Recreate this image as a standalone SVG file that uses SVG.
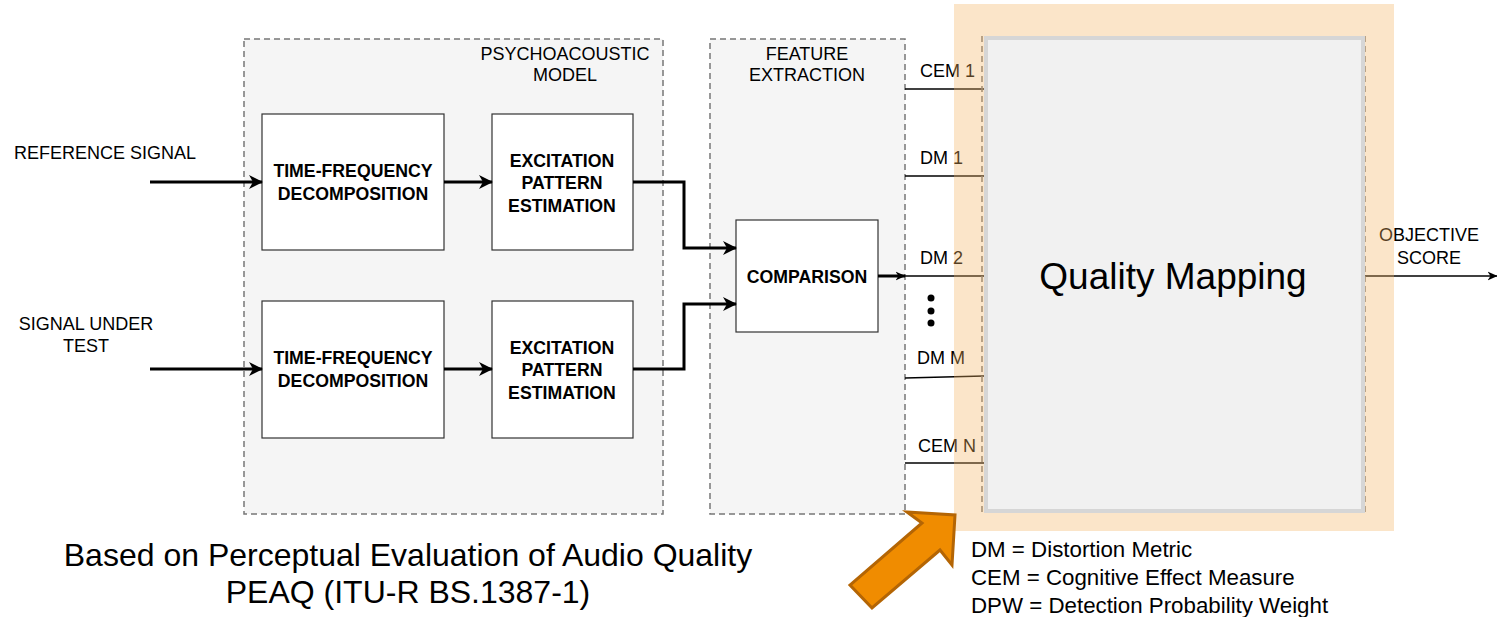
<svg xmlns="http://www.w3.org/2000/svg" width="1497" height="617" viewBox="0 0 1497 617">
  <defs>
    <style>
      text { font-family: "Liberation Sans", Arial, sans-serif; fill: #000; }
      .lbl { font-size: 18px; }
      .bold { font-size: 17.7px; font-weight: bold; }
      .container { fill: #f5f5f5; stroke: #777; stroke-width: 1.5; stroke-dasharray: 6 4; }
      .block { fill: #fff; stroke: #333; stroke-width: 1.2; }
      .thick { fill: none; stroke: #000; stroke-width: 3; }
      .thin { fill: none; stroke: #000; stroke-width: 1.5; }
    </style>
    <marker id="headBig" viewBox="0 0 14 14" refX="13" refY="7" markerWidth="14" markerHeight="14" markerUnits="userSpaceOnUse" orient="auto">
      <path d="M0,0 L14,7 L0,14 L4,7 Z" fill="#000"/>
    </marker>
    <marker id="headSmall" viewBox="0 0 10 10" refX="9.5" refY="5" markerWidth="10" markerHeight="10" markerUnits="userSpaceOnUse" orient="auto">
      <path d="M0,0.5 L10,5 L0,9.5 L3,5 Z" fill="#000"/>
    </marker>
  </defs>

  <rect width="1497" height="617" fill="#fff"/>

  <!-- containers -->
  <g id="psychoacoustic-model">
    <rect class="container" x="244" y="39" width="419" height="475"/>
    <text class="lbl" x="565" y="60" text-anchor="middle">PSYCHOACOUSTIC</text>
    <text class="lbl" x="565" y="81" text-anchor="middle">MODEL</text>
  </g>
  <g id="feature-extraction">
    <rect class="container" x="710" y="39" width="195" height="475"/>
    <text class="lbl" x="807" y="60" text-anchor="middle">FEATURE</text>
    <text class="lbl" x="807" y="81" text-anchor="middle">EXTRACTION</text>
  </g>

  <!-- input labels -->
  <g id="reference-signal">
    <text class="lbl" x="14" y="159">REFERENCE SIGNAL</text>
  </g>
  <g id="signal-under-test">
    <text class="lbl" x="86" y="330" text-anchor="middle">SIGNAL UNDER</text>
    <text class="lbl" x="86" y="352" text-anchor="middle">TEST</text>
  </g>

  <!-- processing blocks -->
  <g id="tf-decomp-ref">
    <rect class="block" x="262" y="114" width="182" height="136"/>
    <text class="bold" x="353" y="177" text-anchor="middle">TIME-FREQUENCY</text>
    <text class="bold" x="353" y="200" text-anchor="middle">DECOMPOSITION</text>
  </g>
  <g id="excitation-ref">
    <rect class="block" x="492" y="114" width="141" height="136"/>
    <text class="bold" x="562" y="167" text-anchor="middle">EXCITATION</text>
    <text class="bold" x="562" y="189" text-anchor="middle">PATTERN</text>
    <text class="bold" x="562" y="212" text-anchor="middle">ESTIMATION</text>
  </g>
  <g id="tf-decomp-test">
    <rect class="block" x="262" y="301" width="182" height="137"/>
    <text class="bold" x="353" y="364" text-anchor="middle">TIME-FREQUENCY</text>
    <text class="bold" x="353" y="387" text-anchor="middle">DECOMPOSITION</text>
  </g>
  <g id="excitation-test">
    <rect class="block" x="492" y="301" width="141" height="137"/>
    <text class="bold" x="562" y="354" text-anchor="middle">EXCITATION</text>
    <text class="bold" x="562" y="376" text-anchor="middle">PATTERN</text>
    <text class="bold" x="562" y="399" text-anchor="middle">ESTIMATION</text>
  </g>
  <g id="comparison">
    <rect class="block" x="736" y="220" width="142" height="112"/>
    <text class="bold" x="807" y="283" text-anchor="middle">COMPARISON</text>
  </g>

  <!-- connectors -->
  <g id="connectors">
    <path class="thick" d="M150,182 H262" marker-end="url(#headBig)"/>
    <path class="thick" d="M150,369 H262" marker-end="url(#headBig)"/>
    <path class="thick" d="M444,182 H492" marker-end="url(#headBig)"/>
    <path class="thick" d="M444,369 H492" marker-end="url(#headBig)"/>
    <path class="thick" d="M633,182 H684 V248 H736" marker-end="url(#headBig)"/>
    <path class="thick" d="M633,369 H684 V304 H736" marker-end="url(#headBig)"/>
    <path class="thick" d="M878,276 H905" marker-end="url(#headSmall)"/>
    <path class="thin" d="M905,89 H984"/>
    <path class="thin" d="M905,176 H984"/>
    <path class="thin" d="M905,276 H984"/>
    <path class="thin" d="M905,378 L984,376"/>
    <path class="thin" d="M905,463 H984"/>
    <path class="thin" d="M1364,276 H1497" marker-end="url(#headSmall)"/>
  </g>

  <!-- metric labels -->
  <g id="metric-labels">
    <text class="lbl" x="920" y="77">CEM 1</text>
    <text class="lbl" x="920" y="164">DM 1</text>
    <text class="lbl" x="920" y="264">DM 2</text>
    <text class="lbl" x="917" y="364">DM M</text>
    <text class="lbl" x="918" y="452">CEM N</text>
    <circle cx="931" cy="298" r="3.5" fill="#000"/>
    <circle cx="931" cy="311" r="3.5" fill="#000"/>
    <circle cx="931" cy="323" r="3.5" fill="#000"/>
  </g>

  <g id="objective-score">
    <text class="lbl" x="1429" y="241" text-anchor="middle">OBJECTIVE</text>
    <text class="lbl" x="1429" y="264" text-anchor="middle">SCORE</text>
  </g>

  <!-- dashed edges of the mapping stage -->
  <g id="mapping-edges">
    <line x1="982" y1="36" x2="982" y2="513" stroke="#777" stroke-width="1.5" stroke-dasharray="6 4"/>
    <line x1="1365" y1="36" x2="1365" y2="513" stroke="#777" stroke-width="1.5" stroke-dasharray="6 4"/>
  </g>

  <!-- highlight band -->
  <rect id="highlight" x="954" y="4" width="440" height="527" fill="#f4b565" fill-opacity="0.35"/>

  <g id="quality-mapping">
    <rect x="986" y="38" width="377" height="473" fill="#f1f1f1" stroke="#d6d6d6" stroke-width="4"/>
    <text x="1173" y="289" text-anchor="middle" font-size="37">Quality Mapping</text>
  </g>

  <!-- pointer arrow -->
  <g id="pointer">
    <polygon points="907,512 955,515 952,565 940,550 872,608 850,585 922,523" fill="#f08c00" stroke="#b46504" stroke-width="3" stroke-linejoin="miter"/>
  </g>

  <g id="caption">
    <text x="408" y="566" text-anchor="middle" font-size="32">Based on Perceptual Evaluation of Audio Quality</text>
    <text x="408" y="603" text-anchor="middle" font-size="32">PEAQ (ITU-R BS.1387-1)</text>
  </g>

  <g id="legend">
    <text x="971" y="557" font-size="22.3">DM = Distortion Metric</text>
    <text x="971" y="585" font-size="22.3">CEM = Cognitive Effect Measure</text>
    <text x="971" y="613" font-size="22.3">DPW = Detection Probability Weight</text>
  </g>
</svg>
